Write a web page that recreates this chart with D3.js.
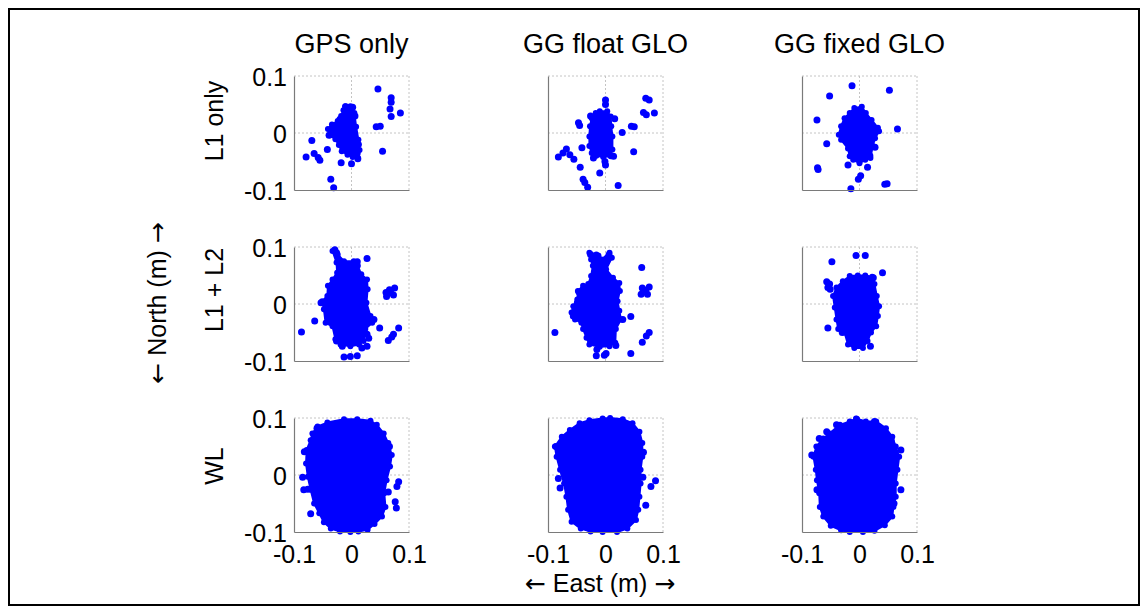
<!DOCTYPE html>
<html>
<head>
<meta charset="utf-8">
<script src="https://cdn.jsdelivr.net/npm/d3@7"></script>
<style>
  body { margin: 0; background: #fff; }
  text { font-family: "Liberation Sans", Arial, sans-serif; fill: #000; }
  .arrow { font-family: "DejaVu Sans", sans-serif; }
</style>
</head>
<body>
<div id="plot"></div>
<script>
const CANVAS_WIDTH  = 1148;
const CANVAS_HEIGHT = 614;
const AX_W          = 115;
const AX_H          = 114;
const COL_LEFT      = [294, 548, 802];
const ROW_TOP       = [76, 247, 418];
const RADIUS        = 3.5;
const BLUE          = "#0000ff";

var colNames   = ["GPS only", "GG float GLO", "GG fixed GLO"];
var rowNames   = ["L1 only", "L1 + L2", "WL"];
var tickValues = [-0.1, 0, 0.1];
var tickLabels = ["-0.1", "0", "0.1"];

// each panel: outline of the dense centre of the cloud [east, north] in m,
// plus the separate points around it

// L1 only
var gpsL1Core = [[-0.011,0.047],[-0.002,0.047],[0.005,0.035],[0.008,0.011],[0.012,-0.012],[0.014,-0.030],
  [0.011,-0.043],[0.002,-0.042],[-0.007,-0.038],[-0.017,-0.032],[-0.022,-0.021],[-0.028,-0.011],
  [-0.038,-0.004],[-0.041,0.007],[-0.034,0.015],[-0.024,0.021],[-0.018,0.030],[-0.014,0.040]];
var gpsL1Pts = [[0.046,0.077],[0.069,0.062],[0.069,0.054],[0.067,0.042],[0.069,0.029],[0.085,0.035],
  [0.043,0.011],[0.050,0.012],[0.054,-0.032],[-0.069,-0.013],[-0.079,-0.042],[-0.065,-0.036],
  [-0.058,-0.043],[-0.055,-0.048],[-0.042,-0.029],[-0.018,-0.052],[0.000,-0.054],[-0.036,-0.081],
  [-0.031,-0.096],[0.011,-0.045],[-0.039,-0.004],[-0.010,0.046],[0.002,0.045],[0.010,-0.035],
  [0.006,0.030],[-0.020,0.024],[0.012,-0.020]];

var floatL1Core = [[-0.010,0.038],[0.003,0.038],[0.009,0.029],[0.010,0.012],[0.012,-0.006],[0.012,-0.029],
  [0.009,-0.041],[-0.004,-0.042],[-0.016,-0.040],[-0.024,-0.035],[-0.028,-0.023],[-0.028,-0.006],
  [-0.027,0.012],[-0.024,0.026],[-0.017,0.035]];
var floatL1Pts = [[0.000,0.058],[0.000,0.050],[0.070,0.061],[0.076,0.058],[0.066,0.036],[0.071,0.032],
  [0.085,0.035],[-0.047,0.018],[-0.045,0.013],[0.045,0.012],[0.050,0.011],[0.029,0.001],[0.049,-0.033],
  [-0.041,-0.026],[-0.068,-0.028],[-0.074,-0.035],[-0.082,-0.042],[-0.062,-0.038],[-0.055,-0.046],
  [-0.044,-0.060],[-0.021,-0.044],[-0.001,-0.050],[0.000,-0.056],[-0.010,-0.070],[-0.039,-0.081],
  [-0.036,-0.087],[-0.031,-0.095],[0.022,-0.092],[0.016,0.025],[0.014,-0.041],[-0.026,0.030]];

var fixedL1Core = [[-0.009,0.044],[0.004,0.046],[0.011,0.035],[0.021,0.023],[0.032,0.009],[0.034,0.003],
  [0.027,-0.009],[0.023,-0.023],[0.019,-0.044],[0.010,-0.047],[0.000,-0.053],[-0.011,-0.047],
  [-0.017,-0.041],[-0.020,-0.027],[-0.032,-0.012],[-0.036,-0.003],[-0.032,0.012],[-0.026,0.026],
  [-0.017,0.035]];
var fixedL1Pts = [[-0.013,0.083],[-0.052,0.065],[0.052,0.075],[-0.074,0.023],[0.066,0.007],[-0.057,-0.019],
  [0.027,-0.025],[-0.072,-0.064],[-0.073,-0.061],[-0.020,-0.056],[0.014,-0.060],[0.002,-0.075],
  [-0.002,-0.081],[-0.015,-0.098],[0.048,-0.089],[0.044,-0.090],[0.030,0.008],[0.018,-0.040]];

// L1 + L2
var gpsL12Core = [[-0.033,0.093],[-0.024,0.087],[-0.013,0.075],[0.004,0.075],[0.011,0.067],[0.017,0.052],
  [0.027,0.043],[0.028,0.026],[0.026,0.002],[0.033,-0.021],[0.036,-0.033],[0.024,-0.044],[0.021,-0.065],
  [0.013,-0.071],[-0.002,-0.074],[-0.019,-0.071],[-0.028,-0.062],[-0.033,-0.039],[-0.045,-0.033],
  [-0.048,-0.009],[-0.051,0.005],[-0.042,0.014],[-0.041,0.032],[-0.033,0.043],[-0.025,0.055],[-0.026,0.073]];
var gpsL12Pts = [[-0.029,0.095],[-0.026,0.090],[0.027,0.080],[0.010,0.074],[0.060,0.020],[0.066,0.025],
  [0.075,0.028],[0.073,0.016],[0.061,0.013],[0.068,0.020],[-0.053,0.002],[-0.064,-0.030],[-0.087,-0.049],
  [0.082,-0.042],[0.073,-0.053],[0.070,-0.058],[0.064,-0.064],[0.049,-0.042],[0.039,-0.027],
  [0.027,-0.053],[0.018,-0.077],[0.027,-0.074],[-0.016,-0.074],[-0.013,-0.093],[-0.002,-0.092],
  [0.010,-0.091],[-0.026,-0.065],[0.030,-0.060]];

var floatL12Core = [[-0.028,0.090],[-0.016,0.087],[-0.007,0.078],[0.007,0.090],[0.011,0.081],[0.001,0.061],
  [0.013,0.046],[0.024,0.037],[0.025,0.023],[0.021,0.005],[0.024,-0.012],[0.027,-0.027],[0.018,-0.044],
  [0.017,-0.068],[0.007,-0.074],[-0.010,-0.075],[-0.028,-0.071],[-0.033,-0.059],[-0.039,-0.044],
  [-0.042,-0.033],[-0.053,-0.027],[-0.059,-0.015],[-0.056,-0.004],[-0.049,0.008],[-0.048,0.023],
  [-0.039,0.032],[-0.030,0.035],[-0.025,0.049],[-0.022,0.067],[-0.025,0.078]];
var floatL12Pts = [[-0.026,0.087],[-0.013,0.084],[0.006,0.086],[0.063,0.064],[0.064,0.028],[0.070,0.024],
  [0.076,0.030],[0.073,0.017],[0.062,0.017],[-0.088,-0.050],[0.044,-0.022],[0.030,-0.027],[0.076,-0.050],
  [0.071,-0.056],[0.064,-0.067],[0.044,-0.087],[-0.016,-0.091],[-0.002,-0.090],[0.001,-0.087],
  [-0.015,-0.080],[0.018,-0.073],[-0.056,-0.021],[-0.049,0.002],[-0.046,0.021]];

var fixedL12Core = [[-0.029,0.040],[-0.017,0.049],[-0.003,0.050],[0.010,0.050],[0.022,0.048],[0.026,0.035],
  [0.030,0.014],[0.034,-0.004],[0.032,-0.021],[0.029,-0.039],[0.020,-0.050],[0.014,-0.065],[0.006,-0.077],
  [-0.009,-0.077],[-0.020,-0.071],[-0.026,-0.050],[-0.037,-0.044],[-0.040,-0.027],[-0.043,-0.006],
  [-0.046,0.014],[-0.040,0.029]];
var fixedL12Pts = [[-0.006,0.085],[0.010,0.085],[-0.048,0.074],[0.040,0.055],[-0.057,0.039],[-0.052,0.035],
  [-0.055,0.029],[-0.051,0.026],[-0.055,-0.042],[0.019,-0.074],[0.024,0.046],[-0.030,-0.050]];

// WL
var gpsWLCore = [[-0.059,0.085],[-0.042,0.092],[-0.013,0.098],[0.010,0.098],[0.033,0.095],[0.044,0.088],
  [0.056,0.073],[0.064,0.056],[0.070,0.035],[0.067,0.015],[0.061,-0.009],[0.057,-0.032],[0.059,-0.056],
  [0.053,-0.073],[0.040,-0.086],[0.028,-0.096],[0.012,-0.099],[-0.002,-0.100],[-0.020,-0.099],
  [-0.036,-0.094],[-0.048,-0.083],[-0.056,-0.067],[-0.065,-0.050],[-0.071,-0.026],[-0.076,-0.003],
  [-0.079,0.020],[-0.078,0.044],[-0.071,0.061],[-0.068,0.073]];
var gpsWLPts = [[-0.085,-0.004],[-0.083,-0.026],[-0.076,-0.025],[-0.071,-0.068],[0.082,-0.012],
  [0.079,-0.020],[0.076,-0.047],[0.078,-0.058],[-0.082,0.041],[-0.065,0.064],[-0.056,0.074],
  [0.066,0.050],[0.064,-0.030],[-0.060,0.082]];

var floatWLCore = [[-0.062,0.079],[-0.045,0.091],[-0.028,0.096],[-0.005,0.099],[0.008,0.100],[0.030,0.098],
  [0.047,0.091],[0.059,0.076],[0.064,0.056],[0.064,0.032],[0.061,0.009],[0.061,-0.015],[0.059,-0.038],
  [0.057,-0.061],[0.053,-0.079],[0.038,-0.094],[0.020,-0.100],[-0.005,-0.100],[-0.026,-0.099],
  [-0.043,-0.094],[-0.059,-0.082],[-0.065,-0.061],[-0.068,-0.038],[-0.072,-0.015],[-0.079,0.009],
  [-0.085,0.032],[-0.088,0.050],[-0.076,0.067]];
var floatWLPts = [[0.087,-0.010],[0.079,-0.020],[0.070,-0.053],[-0.079,-0.023],[-0.082,-0.006],
  [-0.086,0.050],[-0.049,0.080],[0.066,0.040],[0.065,-0.004]];

var fixedWLCore = [[-0.052,0.073],[-0.034,0.088],[-0.017,0.094],[-0.006,0.099],[0.011,0.094],[0.029,0.094],
  [0.046,0.082],[0.057,0.067],[0.063,0.050],[0.069,0.032],[0.066,0.009],[0.063,-0.015],[0.063,-0.038],
  [0.059,-0.056],[0.057,-0.073],[0.044,-0.088],[0.026,-0.098],[0.006,-0.100],[-0.017,-0.100],
  [-0.032,-0.097],[-0.050,-0.089],[-0.063,-0.073],[-0.069,-0.056],[-0.070,-0.032],[-0.074,-0.009],
  [-0.076,0.009],[-0.080,0.032],[-0.075,0.050],[-0.063,0.064]];
var fixedWLPts = [[-0.070,0.064],[-0.057,0.076],[-0.040,0.088],[-0.005,0.098],[0.026,0.094],[0.043,0.079],
  [0.055,0.061],[0.072,0.044],[0.072,-0.026],[-0.074,-0.026],[-0.083,0.035],[0.060,-0.050]];

var panels = [
  { row: 0, col: 0, core: gpsL1Core,    pts: gpsL1Pts },
  { row: 0, col: 1, core: floatL1Core,  pts: floatL1Pts },
  { row: 0, col: 2, core: fixedL1Core,  pts: fixedL1Pts },
  { row: 1, col: 0, core: gpsL12Core,   pts: gpsL12Pts },
  { row: 1, col: 1, core: floatL12Core, pts: floatL12Pts },
  { row: 1, col: 2, core: fixedL12Core, pts: fixedL12Pts },
  { row: 2, col: 0, core: gpsWLCore,    pts: gpsWLPts },
  { row: 2, col: 1, core: floatWLCore,  pts: floatWLPts },
  { row: 2, col: 2, core: fixedWLCore,  pts: fixedWLPts }
];

var svg = d3.select("#plot")
    .append("svg")
    .attr("width", CANVAS_WIDTH)
    .attr("height", CANVAS_HEIGHT);

// frame round the figure
svg.append("rect")
   .attr("x", 9).attr("y", 9)
   .attr("width", 1130).attr("height", 596)
   .attr("fill", "none")
   .attr("stroke", "#000")
   .attr("stroke-width", 2);

function drawPanel(p) {
    var left = COL_LEFT[p.col], top = ROW_TOP[p.row];
    var xScale = d3.scaleLinear().domain([-0.1, 0.1]).range([left, left + AX_W]);
    var yScale = d3.scaleLinear().domain([-0.1, 0.1]).range([top + AX_H, top]);
    var g = svg.append("g");

    // grid at 0 and 0.1 (the -0.1 lines sit under the axes)
    var gridVals = [0, 0.1];
    g.selectAll(".gx").data(gridVals).enter().append("line")
     .attr("x1", d => xScale(d)).attr("x2", d => xScale(d))
     .attr("y1", yScale(-0.1)).attr("y2", yScale(0.1))
     .attr("stroke", "#c4c4c4").attr("stroke-dasharray", "2,2");
    g.selectAll(".gy").data(gridVals).enter().append("line")
     .attr("y1", d => yScale(d)).attr("y2", d => yScale(d))
     .attr("x1", xScale(-0.1)).attr("x2", xScale(0.1))
     .attr("stroke", "#c4c4c4").attr("stroke-dasharray", "2,2");

    var line = d3.line()
        .x(d => xScale(d[0]))
        .y(d => yScale(d[1]))
        .curve(d3.curveLinearClosed);

    g.append("path")
     .attr("d", line(p.core))
     .attr("fill", BLUE)
     .attr("stroke", BLUE)
     .attr("stroke-width", 2)
     .attr("stroke-linejoin", "round");

    g.selectAll("circle.edge")
     .data(p.core)
     .enter()
     .append("circle")
     .attr("cx", d => xScale(d[0]))
     .attr("cy", d => yScale(d[1]))
     .attr("r", RADIUS - 0.5)
     .attr("fill", BLUE);

    g.selectAll("circle.pt")
     .data(p.pts)
     .enter()
     .append("circle")
     .attr("cx", d => xScale(d[0]))
     .attr("cy", d => yScale(d[1]))
     .attr("r", RADIUS)
     .attr("fill", BLUE);

    // axes: only left and bottom lines, labels on the outer panels
    var yAxis = d3.axisLeft(yScale)
        .tickValues(tickValues)
        .tickSize(0)
        .tickPadding(7)
        .tickFormat((d, i) => p.col === 0 ? tickLabels[i] : "");
    var ya = g.append("g")
        .attr("transform", "translate(" + left + ",0)")
        .call(yAxis);

    var xAxis = d3.axisBottom(xScale)
        .tickValues(tickValues)
        .tickSize(0)
        .tickPadding(13)
        .tickFormat((d, i) => p.row === 2 ? tickLabels[i] : "");
    var xa = g.append("g")
        .attr("transform", "translate(0," + (top + AX_H) + ")")
        .call(xAxis);

    [ya, xa].forEach(function(a) {
        a.select(".domain").attr("stroke", "#7a7a7a").attr("stroke-width", 1.2);
        a.selectAll("text")
         .attr("font-size", 25)
         .attr("font-family", "'Liberation Sans', Arial, sans-serif")
         .attr("fill", "#000");
    });
    ya.selectAll("text").attr("dy", "0.36em");
    xa.selectAll("text").attr("dy", "0.72em");
}

panels.forEach(drawPanel);

// column titles
svg.selectAll(".col-title")
   .data(colNames)
   .enter()
   .append("text")
   .attr("x", (d, i) => COL_LEFT[i] + AX_W / 2)
   .attr("y", 53)
   .attr("text-anchor", "middle")
   .attr("font-size", 27)
   .text(d => d);

// row labels
var rowCenters = [121, 290, 466];
svg.selectAll(".row-title")
   .data(rowNames)
   .enter()
   .append("text")
   .attr("transform", (d, i) => "translate(223," + rowCenters[i] + ") rotate(-90)")
   .attr("text-anchor", "middle")
   .attr("font-size", 25)
   .text(d => d);

function arrowLabel(sel, word) {
    sel.append("tspan").attr("class", "arrow").text("\u2190");
    sel.append("tspan").text(" " + word + " ");
    sel.append("tspan").attr("class", "arrow").text("\u2192");
}

svg.append("text")
   .attr("transform", "translate(166,303) rotate(-90)")
   .attr("text-anchor", "middle")
   .attr("font-size", 25)
   .call(arrowLabel, "North (m)");

svg.append("text")
   .attr("x", 600)
   .attr("y", 592)
   .attr("text-anchor", "middle")
   .attr("font-size", 25)
   .call(arrowLabel, "East (m)");
</script>
</body>
</html>
